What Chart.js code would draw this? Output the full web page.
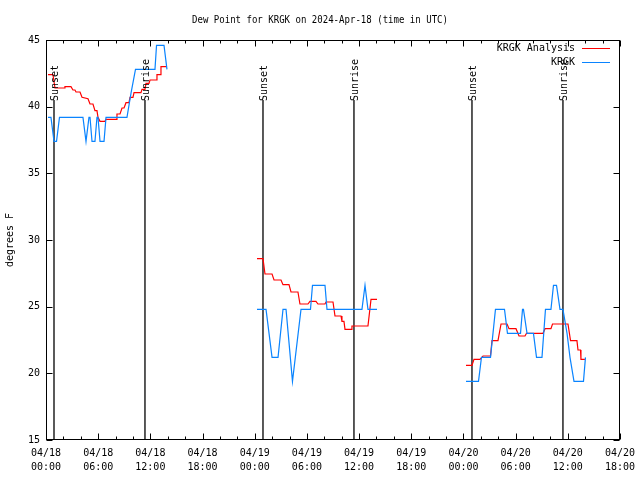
<!DOCTYPE html>
<html>
<head>
<meta charset="utf-8">
<script src="https://cdn.jsdelivr.net/npm/chart.js@4.4.1/dist/chart.umd.min.js"></script>
<style>
  html, body { margin: 0; padding: 0; background: #fff; }
  #wrap { width: 640px; height: 480px; }
</style>
</head>
<body>
<div id="wrap"><canvas id="chart" width="640" height="480"></canvas></div>
<script>
const chartTitle = "Dew Point for KRGK on 2024-Apr-18 (time in UTC)";
const yTitle = "degrees F";
const seriesNames = ["KRGK Analysis", "KRGK"];

// hours since 04/18 00:00 UTC
const xTickDates = ["04/18", "04/18", "04/18", "04/18", "04/19", "04/19", "04/19", "04/19", "04/20", "04/20", "04/20", "04/20"];
const xTickTimes = ["00:00", "06:00", "12:00", "18:00", "00:00", "06:00", "12:00", "18:00", "00:00", "06:00", "12:00", "18:00"];
const yTicks = [15, 20, 25, 30, 35, 40, 45];

const sunLabels = ["Sunset", "Sunrise", "Sunset", "Sunrise", "Sunset", "Sunrise"];
const sunHours = [0.92, 11.38, 24.95, 35.41, 48.98, 59.44];
const sunLineTop = 40.5;

// KRGK Analysis
const analysisHours1 = [0.23,0.80,1.03,2.07,2.18,2.87,3.10,3.33,3.45,3.91,4.14,4.83,5.06,5.40,5.63,5.86,5.98,6.09,6.21,6.78,6.90,8.05,8.16,8.51,8.74,8.97,9.20,9.54,9.66,10.00,10.12,10.92,11.04,11.38,11.50,11.84,11.96,12.65,12.76,13.17,13.22,13.91];
const analysisDew1 = [42.4,42.4,41.4,41.4,41.5,41.5,41.25,41.25,41.1,41.1,40.7,40.6,40.2,40.2,39.7,39.7,39.2,39.2,38.9,38.9,39.05,39.05,39.45,39.45,39.9,39.9,40.3,40.3,40.7,40.7,41.05,41.05,41.3,41.3,41.75,41.75,42.0,42.0,42.4,42.4,43.0,43.0];
const analysisHours2 = [24.26,24.95,25.18,25.99,26.22,27.02,27.25,27.94,28.17,28.97,29.20,30.12,30.35,31.04,31.27,32.08,32.19,33.00,33.23,33.92,34.03,34.26,34.38,35.07,35.18,37.02,37.37,38.06];
const analysisDew2 = [28.6,28.6,27.45,27.45,27.0,27.0,26.65,26.65,26.1,26.1,25.2,25.2,25.4,25.4,25.2,25.2,25.35,25.35,24.3,24.3,23.9,23.9,23.3,23.3,23.55,23.55,25.55,25.55];
const analysisHours3 = [48.29,48.98,49.21,49.90,50.25,51.11,51.28,51.97,52.32,53.01,53.24,54.04,54.39,55.08,55.25,57.15,57.38,58.06,58.24,60.02,60.31,61.05,61.17,61.46,61.51,61.97];
const analysisDew3 = [20.6,20.6,21.05,21.05,21.3,21.3,22.45,22.45,23.7,23.7,23.35,23.35,22.8,22.8,23.0,23.0,23.35,23.35,23.7,23.7,22.45,22.45,21.75,21.75,21.05,21.05];

// KRGK observations
const obsHours1 = [0.23,0.57,0.92,1.21,1.55,4.25,4.60,4.71,4.94,5.06,5.29,5.63,5.86,5.98,6.21,6.67,6.90,9.31,9.77,10.29,12.53,12.71,13.57,13.91];
const obsDew1 = [39.2,39.2,37.4,37.4,39.2,39.2,37.4,37.4,39.2,39.2,37.4,37.4,39.2,39.2,37.4,37.4,39.2,39.2,41,42.8,42.8,44.6,44.6,42.8];
const obsHours2 = [24.26,25.30,25.99,26.68,27.25,27.60,28.34,29.32,30.41,30.64,32.08,32.31,36.33,36.68,37.02,38.06];
const obsDew2 = [24.8,24.8,21.2,21.2,24.8,24.8,19.4,24.8,24.8,26.6,26.6,24.8,24.8,26.6,24.8,24.8];
const obsHours3 = [48.29,49.73,50.07,51.11,51.68,52.72,53.06,54.56,54.79,54.90,55.31,56.05,56.40,57.03,57.43,58.06,58.35,58.70,59.10,59.44,59.91,60.25,60.71,61.80,62.03];
const obsDew3 = [19.4,19.4,21.2,21.2,24.8,24.8,23,23,24.8,24.8,23,23,21.2,21.2,24.8,24.8,26.6,26.6,24.8,24.8,23,21.2,19.4,19.4,21.2];

const RED = "#ff0000";
const BLUE = "#0a84ff";
const FONT = "DejaVu Sans Mono";

function pts(xs, ys) {
    return xs.map((x, i) => ({ x: x, y: ys[i] }));
}

// join segments with a null point so the line breaks
function joined(parts) {
    let out = [];
    parts.forEach((p, i) => {
        if (i > 0) out.push({ x: p[0].x - 0.01, y: null });
        out = out.concat(p);
    });
    return out;
}

const datasets = [];

datasets.push({
    label: seriesNames[1],
    data: joined([pts(obsHours1, obsDew1), pts(obsHours2, obsDew2), pts(obsHours3, obsDew3)]),
    borderColor: BLUE,
    borderWidth: 1.2,
    order: 1
});
datasets.push({
    label: seriesNames[0],
    data: joined([pts(analysisHours1, analysisDew1), pts(analysisHours2, analysisDew2), pts(analysisHours3, analysisDew3)]),
    borderColor: RED,
    borderWidth: 1.2,
    order: 2
});
sunHours.forEach((h) => {
    datasets.push({
        label: "sun",
        data: [{ x: h, y: yTicks[0] }, { x: h, y: sunLineTop }],
        borderColor: "#000",
        borderWidth: 1.3,
        order: 3
    });
});

// title, box, inward ticks, sun labels and legend like gnuplot
const gnuplotBits = {
    id: "gnuplotBits",
    afterDraw(chart) {
        const ctx = chart.ctx;
        const a = chart.chartArea;
        const xs = chart.scales.x;
        const ys = chart.scales.y;
        ctx.save();
        ctx.strokeStyle = "#000";
        ctx.lineWidth = 1;
        const L = Math.round(a.left) + 0.5, R = Math.round(a.right) - 0.5;
        const T = Math.round(a.top) + 0.5, B = Math.round(a.bottom) - 0.5;
        ctx.strokeRect(L, T, R - L, B - T);

        ctx.beginPath();
        for (let h = 0; h <= 66; h += 2) {
            const px = Math.round(xs.getPixelForValue(h)) + 0.5;
            const len = h % 6 === 0 ? 6 : 3;
            ctx.moveTo(px, B); ctx.lineTo(px, B - len);
            ctx.moveTo(px, T); ctx.lineTo(px, T + len);
        }
        yTicks.forEach((v) => {
            const py = Math.round(ys.getPixelForValue(v)) + 0.5;
            ctx.moveTo(L, py); ctx.lineTo(L + 6, py);
            ctx.moveTo(R, py); ctx.lineTo(R - 6, py);
        });
        ctx.stroke();

        ctx.fillStyle = "#000";
        ctx.font = "10px '" + FONT + "'";
        ctx.textBaseline = "middle";

        ctx.textAlign = "center";
        ctx.fillText(chartTitle, chart.width / 2, 20, 256);

        sunLabels.forEach((s, i) => {
            ctx.save();
            ctx.translate(xs.getPixelForValue(sunHours[i]) + 1, ys.getPixelForValue(sunLineTop) + 1);
            ctx.rotate(-Math.PI / 2);
            ctx.textAlign = "left";
            ctx.fillText(s, 0, 0);
            ctx.restore();
        });

        const colors = [RED, BLUE];
        ctx.textAlign = "right";
        seriesNames.forEach((name, i) => {
            const y = a.top + 8 + i * 14;
            ctx.fillStyle = "#000";
            ctx.fillText(name, a.right - 45, y);
            ctx.strokeStyle = colors[i];
            ctx.beginPath();
            ctx.moveTo(a.right - 38, Math.round(y) + 0.5);
            ctx.lineTo(a.right - 10, Math.round(y) + 0.5);
            ctx.stroke();
        });
        ctx.restore();
    }
};

new Chart(document.getElementById("chart").getContext("2d"), {
    type: "line",
    data: { datasets: datasets },
    plugins: [gnuplotBits],
    options: {
        responsive: false,
        animation: false,
        devicePixelRatio: 1,
        layout: { padding: { left: 0, right: 20, top: 40, bottom: 0 } },
        elements: { point: { radius: 0 }, line: { tension: 0 } },
        spanGaps: false,
        plugins: {
            legend: { display: false },
            tooltip: { enabled: false },
            title: { display: false }
        },
        scales: {
            x: {
                type: "linear",
                min: 0,
                max: 66,
                afterFit: (s) => { s.height = 40; s.paddingLeft = 0; s.paddingRight = 0; },
                grid: { display: false, drawTicks: false },
                border: { display: false },
                ticks: {
                    stepSize: 6,
                    autoSkip: false,
                    maxRotation: 0,
                    padding: 7,
                    color: "#000",
                    font: { family: FONT, size: 10, lineHeight: 1.35 },
                    callback: (v) => {
                        const i = Math.round(v / 6);
                        return [xTickDates[i], xTickTimes[i]];
                    }
                }
            },
            y: {
                min: yTicks[0],
                max: yTicks[yTicks.length - 1],
                afterFit: (s) => { s.width = 46; },
                grid: { display: false, drawTicks: false },
                border: { display: false },
                title: {
                    display: true,
                    text: yTitle,
                    color: "#000",
                    font: { family: FONT, size: 10, lineHeight: 1.2 },
                    padding: { top: 4, bottom: 0 }
                },
                ticks: {
                    stepSize: 5,
                    padding: 6,
                    color: "#000",
                    font: { family: FONT, size: 10 },
                    callback: (v) => String(v)
                }
            }
        }
    }
});
</script>
</body>
</html>
